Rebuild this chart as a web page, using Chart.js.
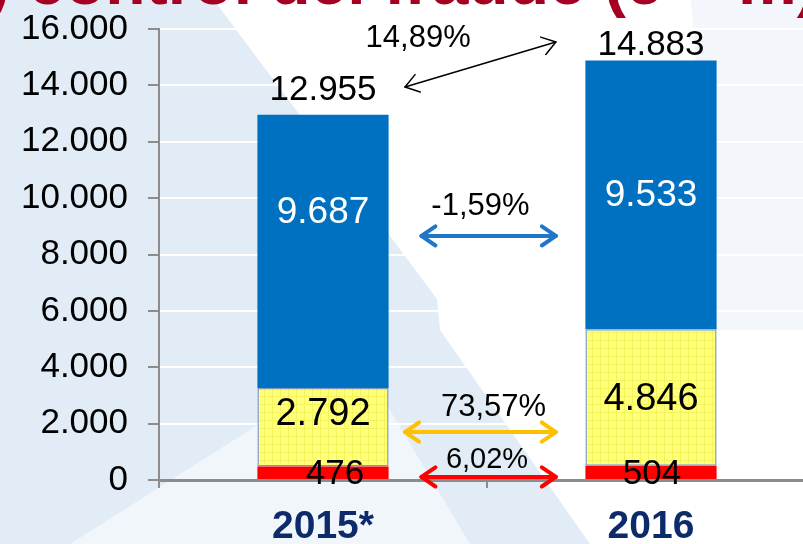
<!DOCTYPE html>
<html>
<head>
<meta charset="utf-8">
<script src="https://cdn.jsdelivr.net/npm/chart.js@4.4.1/dist/chart.umd.min.js"></script>
<style>
  html, body { margin: 0; padding: 0; overflow: hidden; background: #fff; }
  #wrap { width: 815px; height: 556px; margin-top: -12px; }
</style>
</head>
<body>
<div id="wrap"><canvas id="fraudChart" width="815" height="556"></canvas></div>
<script>
// data
const years = ['2015*', '2016'];
const redValues = [476, 504];
const yellowValues = [2792, 4846];
const blueValues = [9687, 9533];
const totals = [12955, 14883];
const yTickLabels = ['0', '2.000', '4.000', '6.000', '8.000', '10.000', '12.000', '14.000', '16.000'];

// change arrows between the bars (x in category units, y in axis units)
const arrowLabels = ['14,89%', '-1,59%', '73,57%', '6,02%'];
const arrowColors = ['#000000', '#1F77C9', '#FFC000', '#FF0000'];
const arrowFrom = [[0.25, 13940], [0.30, 8660], [0.25, 1700], [0.30, 110]];
const arrowTo = [[0.71, 15540], [0.71, 8660], [0.71, 1700], [0.71, 110]];
const arrowLabelAt = [[0.29, 15680], [0.48, 9690], [0.52, 2590], [0.50, 710]];

const FONT = "'Liberation Sans', Arial, sans-serif";
const SHIFT = 12; // canvas is pulled up by this much

function fmt(v) {
    return v.toString().replace(/\B(?=(\d{3})+(?!\d))/g, '.');
}

// yellow grid fill like the original
function makeYellowPattern() {
    const c = document.createElement('canvas');
    c.width = 8; c.height = 8;
    const p = c.getContext('2d');
    p.fillStyle = '#FFFF80';
    p.fillRect(0, 0, 8, 8);
    p.fillStyle = '#F3F35C';
    p.fillRect(0, 0, 8, 1);
    p.fillRect(0, 0, 1, 8);
    p.fillStyle = '#F8F86A';
    p.fillRect(4, 4, 1, 1);
    p.fillRect(2, 6, 1, 1);
    p.fillRect(6, 2, 1, 1);
    return p.createPattern(c, 'repeat');
}

function poly(ctx, pts, color) {
    ctx.beginPath();
    ctx.moveTo(pts[0][0], pts[0][1]);
    for (let i = 1; i < pts.length; i++) ctx.lineTo(pts[i][0], pts[i][1]);
    ctx.closePath();
    ctx.fillStyle = color;
    ctx.fill();
}

const backgroundPlugin = {
    id: 'slideBackground',
    beforeDraw(chart) {
        const ctx = chart.ctx;
        const w = chart.width, h = 544;
        ctx.save();
        ctx.fillStyle = '#FFFFFF';
        ctx.fillRect(0, 0, w, chart.height);
        ctx.translate(0, SHIFT);
        poly(ctx, [[0, -SHIFT], [205, -SHIFT], [437, 299], [440, 330], [590, h], [0, h]], '#E2ECF6');
        poly(ctx, [[70, h], [360, 360], [470, h]], '#F1F6FB');
        poly(ctx, [[690, -SHIFT], [w, -SHIFT], [w, 330], [716, 330]], '#F3F7FC');

        // slide title, only its lower part is visible
        ctx.fillStyle = '#A50021';
        ctx.font = 'bold 66px ' + FONT;
        ctx.textBaseline = 'alphabetic';
        ctx.textAlign = 'left';
        ctx.fillText(') control del fraude (e + m)', -12, 4);
        ctx.restore();
    }
};

function drawArrow(ctx, x1, y1, x2, y2, color, width, head) {
    const ang = Math.atan2(y2 - y1, x2 - x1);
    ctx.strokeStyle = color;
    ctx.lineWidth = width;
    ctx.lineCap = 'round';
    ctx.lineJoin = 'round';
    ctx.beginPath();
    ctx.moveTo(x1, y1);
    ctx.lineTo(x2, y2);
    ctx.stroke();
    [[x2, y2, ang], [x1, y1, ang + Math.PI]].forEach(([x, y, a]) => {
        ctx.beginPath();
        ctx.moveTo(x - head * Math.cos(a - 0.6), y - head * Math.sin(a - 0.6));
        ctx.lineTo(x, y);
        ctx.lineTo(x - head * Math.cos(a + 0.6), y - head * Math.sin(a + 0.6));
        ctx.stroke();
    });
}

const labelPlugin = {
    id: 'barLabels',
    afterDatasetsDraw(chart) {
        const ctx = chart.ctx;
        const xs = chart.scales.x, ys = chart.scales.y;
        ctx.save();
        ctx.textAlign = 'center';

        years.forEach((yr, i) => {
            const cx = xs.getPixelForValue(i);
            // totals above the bars
            ctx.font = '35px ' + FONT;
            ctx.fillStyle = '#000';
            ctx.textBaseline = 'alphabetic';
            const top = ys.getPixelForValue(totals[i]);
            ctx.fillText(fmt(totals[i]), cx, top - (i === 0 ? 15 : 5));

            ctx.textBaseline = 'middle';
            // blue segment
            ctx.font = '37px ' + FONT;
            ctx.fillStyle = '#FFFFFF';
            const bMid = ys.getPixelForValue(redValues[i] + yellowValues[i] + blueValues[i] / 2);
            ctx.fillText(fmt(blueValues[i]), cx, bMid + (i === 0 ? -39 : 1));
            // yellow segment
            ctx.font = '38px ' + FONT;
            ctx.fillStyle = '#000';
            const yMid = ys.getPixelForValue(redValues[i] + yellowValues[i] / 2);
            ctx.fillText(fmt(yellowValues[i]), cx, yMid + (i === 0 ? -13 : 2));
            // red segment
            ctx.font = '35px ' + FONT;
            const rMid = ys.getPixelForValue(redValues[i] / 2);
            ctx.fillText(fmt(redValues[i]), cx + (i === 0 ? 12 : 1), rMid + 1);
        });

        arrowLabels.forEach((txt, k) => {
            const x1 = xs.getPixelForValue(arrowFrom[k][0]);
            const y1 = ys.getPixelForValue(arrowFrom[k][1]);
            const x2 = xs.getPixelForValue(arrowTo[k][0]);
            const y2 = ys.getPixelForValue(arrowTo[k][1]);
            const thin = k === 0;
            drawArrow(ctx, x1, y1, x2, y2, arrowColors[k], thin ? 1.5 : 4, thin ? 16 : 17);
            ctx.fillStyle = '#000';
            ctx.font = (k === 3 ? '29px ' : '31px ') + FONT;
            ctx.textBaseline = 'middle';
            ctx.fillText(txt, xs.getPixelForValue(arrowLabelAt[k][0]), ys.getPixelForValue(arrowLabelAt[k][1]));
        });
        ctx.restore();
    }
};

const ctx = document.getElementById('fraudChart');
new Chart(ctx, {
    type: 'bar',
    data: {
        labels: years,
        datasets: [
            {
                label: 'rojo',
                data: redValues,
                backgroundColor: '#FF0000',
                borderWidth: 0,
            },
            {
                label: 'amarillo',
                data: yellowValues,
                backgroundColor: makeYellowPattern(),
                borderColor: '#7E9CC6',
                borderWidth: 1.5,
                borderSkipped: false,
            },
            {
                label: 'azul',
                data: blueValues,
                backgroundColor: '#0070C0',
                borderWidth: 0,
            }
        ]
    },
    options: {
        responsive: false,
        animation: false,
        devicePixelRatio: 1,
        barPercentage: 0.4,
        categoryPercentage: 1.0,
        layout: { padding: { top: 0, left: 0, right: 0, bottom: 0 } },
        plugins: {
            legend: { display: false },
            tooltip: { enabled: false },
            title: { display: false }
        },
        scales: {
            x: {
                stacked: true,
                offset: true,
                grid: {
                    display: true,
                    drawOnChartArea: false,
                    offset: true,
                    tickLength: 8,
                    tickColor: '#8C8C8C',
                    lineWidth: 2
                },
                border: { color: '#8C8C8C', width: 3 },
                ticks: {
                    color: '#0D2B6B',
                    font: { family: FONT, size: 39, weight: 'bold' },
                    padding: 16,
                    maxRotation: 0
                },
                afterFit(scale) { scale.height = 64; }
            },
            y: {
                stacked: true,
                min: 0,
                max: 16000,
                ticks: {
                    stepSize: 2000,
                    color: '#000',
                    font: { family: FONT, size: 35 },
                    padding: 20,
                    callback: (v, i) => yTickLabels[i]
                },
                grid: {
                    color: '#FFFFFF',
                    lineWidth: 2,
                    tickColor: '#8C8C8C',
                    tickLength: 11
                },
                border: { color: '#8C8C8C', width: 2 },
                afterFit(scale) { scale.width = 159; }
            }
        }
    },
    plugins: [backgroundPlugin, labelPlugin]
});
</script>
</body>
</html>
